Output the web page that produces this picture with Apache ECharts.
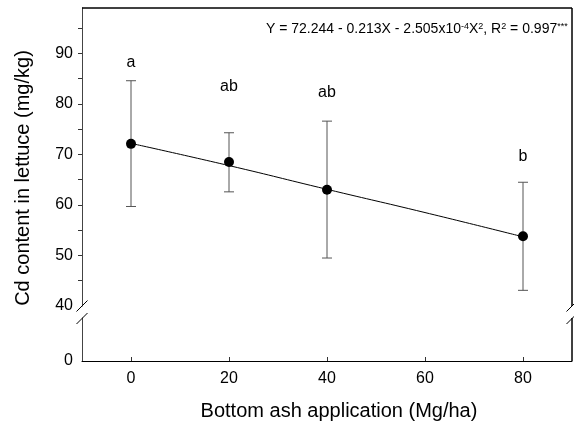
<!DOCTYPE html>
<html>
<head>
<meta charset="utf-8">
<script src="https://cdn.jsdelivr.net/npm/echarts@6/dist/echarts.min.js"></script>
<style>
  html, body { margin: 0; padding: 0; background: #fff; }
  #chart { width: 574px; height: 427px; }
</style>
</head>
<body>
<div id="chart"></div>
<script>
// bottom ash dose (Mg/ha)
var doses = [0, 20, 40, 80];
var means = [72.1, 68.5, 63.0, 53.8];
var errLow = [59.7, 62.6, 49.5, 43.1];
var errHigh = [84.6, 74.3, 76.6, 64.5];
var letters = ['a', 'ab', 'ab', 'b'];
var letterY = [88.2, 83.5, 82.3, 69.6];
// fitted curve
var fitX = [0, 20, 40, 60, 80];
var fitY = [72.2, 67.8, 63.1, 58.5, 53.7];
// axes
var xRange = [-10, 90];
var yTopRange = [40, 99];
var yLowRange = [0, 8.5];
var xTicks = [0, 20, 40, 60, 80];
var yLabels = [40, 50, 60, 70, 80, 90];
var yTicks = [45, 50, 55, 60, 65, 70, 75, 80, 85, 90, 95];
var yLowLabels = [0];

var FONT = 'Liberation Sans, Arial, sans-serif';

var chart = echarts.init(document.getElementById('chart'));

// top and right edges of the box, drawn along the axis extents
var frameTop = [[xRange[0], yTopRange[1]], [xRange[1], yTopRange[1]], [xRange[1], yTopRange[0]]];
var frameLow = [[xRange[1], yLowRange[1]], [xRange[1], yLowRange[0]]];

function frameSeries(xi, yi, pts) {
  return {
    type: 'custom', xAxisIndex: xi, yAxisIndex: yi, data: [[xRange[1], pts[0][1]]],
    silent: true, clip: false, z: 6,
    renderItem: function (params, api) {
      var points = pts.map(function (p) { return api.coord(p); });
      return { type: 'polyline', shape: { points: points },
        style: { stroke: '#000', lineWidth: 1, fill: null } };
    }
  };
}

chart.setOption({
  animation: false,
  textStyle: { fontFamily: FONT },
  grid: [
    { left: 82, right: 2, top: 8, height: 298, outerBoundsMode: 'none' },
    { left: 82, right: 2, top: 318, height: 43, outerBoundsMode: 'none' }
  ],
  xAxis: [
    { type: 'value', gridIndex: 0, min: xRange[0], max: xRange[1],
      axisLine: { show: false }, axisTick: { show: false }, axisLabel: { show: false },
      splitLine: { show: false } },
    { type: 'value', gridIndex: 1, min: xRange[0], max: xRange[1], position: 'bottom',
      axisLine: { show: true, onZero: false, lineStyle: { color: '#000', width: 1 } },
      axisTick: { show: true, inside: true, length: 4, customValues: xTicks, lineStyle: { color: '#333' } },
      axisLabel: { show: true, customValues: xTicks, fontSize: 16, color: '#000', margin: 10 },
      splitLine: { show: false } }
  ],
  yAxis: [
    { type: 'value', gridIndex: 0, min: yTopRange[0], max: yTopRange[1], position: 'left',
      axisLine: { show: true, onZero: false, lineStyle: { color: '#444', width: 1 } },
      axisTick: { show: true, length: 4, customValues: yTicks, lineStyle: { color: '#333' } },
      axisLabel: { show: true, customValues: yLabels, fontSize: 16, color: '#000', margin: 9 },
      splitLine: { show: false } },
    { type: 'value', gridIndex: 1, min: yLowRange[0], max: yLowRange[1], position: 'left',
      axisLine: { show: true, onZero: false, lineStyle: { color: '#444', width: 1 } },
      axisTick: { show: false },
      axisLabel: { show: true, customValues: yLowLabels, fontSize: 16, color: '#000', margin: 9 },
      splitLine: { show: false } }
  ],
  series: [
    {
      type: 'line', xAxisIndex: 0, yAxisIndex: 0, data: frameTop,
      symbol: 'none', clip: false, silent: true,
      lineStyle: { color: '#000', width: 1 }, z: 1
    },
    {
      type: 'line', xAxisIndex: 1, yAxisIndex: 1, data: frameLow,
      symbol: 'none', clip: false, silent: true,
      lineStyle: { color: '#000', width: 1 }, z: 1
    },
    frameSeries(0, 0, frameTop),
    frameSeries(1, 1, frameLow),
    {
      type: 'line', xAxisIndex: 0, yAxisIndex: 0,
      data: fitX.map(function (x, i) { return [x, fitY[i]]; }),
      symbol: 'none', smooth: true,
      lineStyle: { color: '#000', width: 1 },
      z: 2
    },
    {
      type: 'custom', xAxisIndex: 0, yAxisIndex: 0,
      data: doses.map(function (d, i) { return [d, errLow[i], errHigh[i]]; }),
      renderItem: function (params, api) {
        var lo = api.coord([api.value(0), api.value(1)]);
        var hi = api.coord([api.value(0), api.value(2)]);
        var w = 5;
        var st = { stroke: '#555', lineWidth: 1 };
        return {
          type: 'group',
          children: [
            { type: 'line', shape: { x1: hi[0], y1: hi[1], x2: lo[0], y2: lo[1] }, style: st },
            { type: 'line', shape: { x1: hi[0] - w, y1: hi[1], x2: hi[0] + w, y2: hi[1] }, style: st },
            { type: 'line', shape: { x1: lo[0] - w, y1: lo[1], x2: lo[0] + w, y2: lo[1] }, style: st }
          ]
        };
      },
      z: 3
    },
    {
      type: 'scatter', xAxisIndex: 0, yAxisIndex: 0,
      data: doses.map(function (d, i) { return [d, means[i]]; }),
      symbol: 'circle', symbolSize: 10,
      itemStyle: { color: '#000', opacity: 1 },
      z: 4
    },
    {
      type: 'scatter', xAxisIndex: 0, yAxisIndex: 0,
      data: doses.map(function (d, i) { return [d, letterY[i], letters[i]]; }),
      symbolSize: 0,
      itemStyle: { opacity: 1 },
      label: {
        show: true, position: 'inside', color: '#000', fontSize: 16,
        formatter: function (p) { return p.value[2]; }
      },
      z: 5
    }
  ]
});

// axis break marks, placed from the grids
var topLeft = chart.convertToPixel({ gridIndex: 0 }, [xRange[0], yTopRange[0]]);
var topRight = chart.convertToPixel({ gridIndex: 0 }, [xRange[1], yTopRange[0]]);
var lowTop = chart.convertToPixel({ gridIndex: 1 }, [xRange[1], yLowRange[1]]);
var yB = topRight[1], yL = lowTop[1] + 0.5;

function breakMark(id, x, y) {
  var h = 5.5;
  return { id: id, type: 'line', z: 10,
    shape: { x1: x - h, y1: y + h, x2: x + h, y2: y - h },
    style: { stroke: '#000', lineWidth: 1 } };
}

chart.setOption({
  graphic: [
    breakMark('b1', topLeft[0], yB),
    breakMark('b2', topLeft[0], yL),
    breakMark('b3', topRight[0], yB),
    breakMark('b4', topRight[0], yL),
    // equation
    {
      id: 'eq', type: 'text', left: 266, top: 22,
      style: {
        text: 'Y = 72.244 - 0.213X - 2.505x10{sup|-4}X{sup|2}, R{sup|2} = 0.997{sup|***}',
        font: '14px ' + FONT, fill: '#000',
        rich: {
          sup: { fontSize: 9, verticalAlign: 'top', lineHeight: 14, fontFamily: FONT }
        },
        lineHeight: 14
      }
    },
    // axis titles
    {
      id: 'yname', type: 'text', x: 23, y: 178, rotation: Math.PI / 2,
      style: {
        text: 'Cd content in lettuce (mg/kg)', font: '20px ' + FONT, fill: '#000',
        align: 'center', verticalAlign: 'middle'
      }
    },
    {
      id: 'xname', type: 'text', x: 339, y: 411,
      style: {
        text: 'Bottom ash application (Mg/ha)', font: '20px ' + FONT, fill: '#000',
        align: 'center', verticalAlign: 'middle'
      }
    }
  ]
});
</script>
</body>
</html>
